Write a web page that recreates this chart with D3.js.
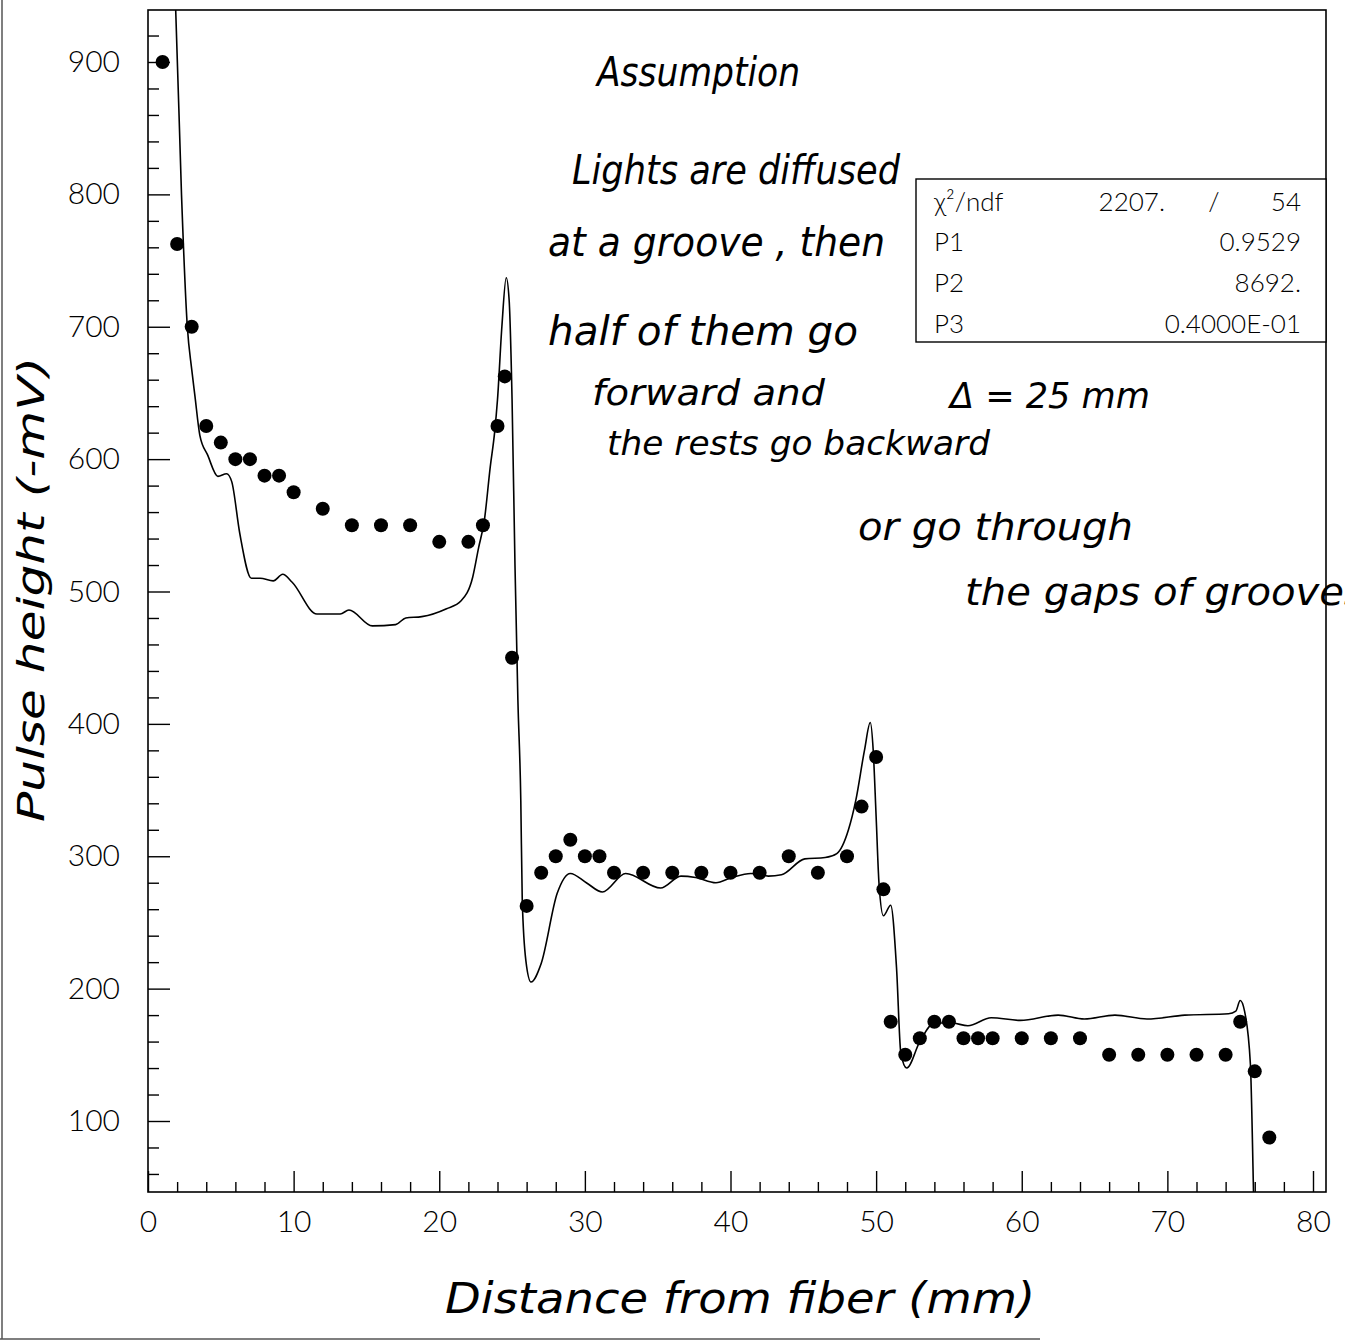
<!DOCTYPE html>
<html>
<head>
<meta charset="utf-8">
<script src="https://cdn.jsdelivr.net/npm/d3@7"></script>
<style>
  body { margin: 0; background: #fff; }
  .tick text { font-family: "Lato", "DejaVu Sans", sans-serif; font-weight: 300; }
  .hand { font-family: "DejaVu Sans", sans-serif; font-style: oblique; fill: #000; }
  .stat { font-family: "Lato", "DejaVu Sans", sans-serif; font-weight: 300; font-size: 26px; }
</style>
</head>
<body>
<div id="chart"></div>
<script>
(function () {

  // measured points (pulse height vs distance)
  var dotX = [1, 2, 3, 4, 5, 6, 7, 8, 9, 10, 12, 14, 16, 18, 20, 22, 23, 24, 24.5, 25,
    26, 27, 28, 29, 30, 31, 32, 34, 36, 38, 40, 42, 44, 46, 48, 49, 50, 50.5, 51,
    52, 53, 54, 55, 56, 57, 58, 60, 62, 64, 66, 68, 70, 72, 74, 75, 76, 77];
  var dotY = [900, 762.5, 700, 625, 612.5, 600, 600, 587.5, 587.5, 575, 562.5, 550, 550, 550, 537.5, 537.5, 550, 625, 662.5, 450,
    262.5, 287.5, 300, 312.5, 300, 300, 287.5, 287.5, 287.5, 287.5, 287.5, 287.5, 300, 287.5, 300, 337.5, 375, 275, 175,
    150, 162.5, 175, 175, 162.5, 162.5, 162.5, 162.5, 162.5, 162.5, 150, 150, 150, 150, 150, 175, 137.5, 87.5];

  // fitted curve
  var fitX = [1.6, 1.9, 2.3, 2.7, 3.0, 3.22, 3.56, 4.1, 4.8, 5.4, 5.75, 6.3, 7.1, 7.7, 8.6, 9.25, 9.9,
    11.6, 13.2, 13.8, 15.4, 17.0, 17.7, 18.8, 20.5, 21.5, 22.3, 22.7, 23.1, 23.5, 23.8, 24.0, 24.3, 24.6,
    24.8, 25.0, 25.2, 25.4, 25.6, 25.7, 25.95, 26.3, 27.0, 28.1, 29.0, 30.1, 31.2, 32.8, 35.2, 36.6, 37.6,
    39.0, 40.1, 41.4, 42.6, 43.5, 45.1, 46.5, 47.3, 48.1, 48.6, 49.2, 49.6, 49.8, 50.0, 50.2, 50.5, 51.0,
    51.4, 51.7, 52.1, 53.0, 54.0, 55.2, 56.3, 57.9, 59.9, 62.5, 64.3, 66.4, 68.6, 71.2, 74.2, 74.7, 75.0,
    75.3, 75.7, 75.9, 76.0];
  var fitY = [1000, 940, 800, 700, 668, 648, 618, 603, 587, 589, 583, 544, 510, 510, 508, 513, 507,
    483, 483, 486, 474, 475, 480, 481, 487, 493, 511, 533, 554, 594, 620, 645, 700, 737,
    720, 645, 520, 418, 342, 267, 221, 205, 219, 272, 287, 280, 273, 287, 276, 285, 284,
    280, 284, 287, 285, 286, 298, 299, 302, 320, 342, 380, 401, 380, 330, 279, 255, 263,
    216, 151, 140, 160, 174, 174, 172, 178, 176, 180, 177, 180, 177, 180, 181, 183, 191,
    183, 143, 54, 0];

  var xMajor = [0, 10, 20, 30, 40, 50, 60, 70, 80];
  var yMajor = [100, 200, 300, 400, 500, 600, 700, 800, 900];

  var statLabels = ["χ²/ndf", "P1", "P2", "P3"];
  var statValues = ["54", "0.9529", "8692.", "0.4000E-01"];

  var notes = [
    { t: "Assumption", x: 597, y: 86, w: 203, s: 40 },
    { t: "Lights are diffused", x: 572, y: 184, w: 328, s: 40 },
    { t: "at a groove , then", x: 548, y: 256, w: 337, s: 40 },
    { t: "half of them go", x: 548, y: 345, w: 310, s: 40 },
    { t: "forward and", x: 592, y: 405, w: 233, s: 36 },
    { t: "Δ = 25 mm", x: 950, y: 408, w: 200, s: 36 },
    { t: "the rests go backward", x: 607, y: 455, w: 383, s: 34 },
    { t: "or go through", x: 858, y: 540, w: 275, s: 38 },
    { t: "the gaps of grooves", x: 965, y: 605, w: 400, s: 38 }
  ];

  var W = 1345, H = 1342,
    left = 148, right = 1326, top = 10, bottom = 1192;

  var svg = d3.select("#chart").append("svg")
    .attr("width", W)
    .attr("height", H);

  // x(0)=148, x(80)=1313, frame runs a bit past 80
  var x = d3.scaleLinear().domain([0, 80]).range([148, 1313]);
  var y = d3.scaleLinear().domain([100, 900]).range([1121, 62]);

  // scan border
  svg.append("line").attr("x1", 2).attr("x2", 2).attr("y1", 0).attr("y2", 1339)
    .attr("stroke", "#555").attr("stroke-width", 1.5);
  svg.append("line").attr("x1", 0).attr("x2", 1040).attr("y1", 1339).attr("y2", 1339)
    .attr("stroke", "#555").attr("stroke-width", 1.5);

  // frame
  svg.append("rect")
    .attr("x", left).attr("y", top)
    .attr("width", right - left).attr("height", bottom - top)
    .attr("fill", "none").attr("stroke", "#000").attr("stroke-width", 1.6);

  // axes, ticks pointing inward
  var xMinor = d3.range(2, 81, 2).filter(function (d) { return d % 10 !== 0; });
  var yMinor = d3.range(60, 940, 20).filter(function (d) { return d % 100 !== 0; });

  var xAxis = svg.append("g").attr("transform", "translate(0," + bottom + ")");
  xAxis.call(d3.axisBottom(x).tickValues(xMajor).tickSize(-21).tickPadding(40)
    .tickFormat(d3.format("d")));
  xAxis.append("g").call(d3.axisBottom(x).tickValues(xMinor).tickSize(-10).tickFormat(""));
  xAxis.selectAll(".domain").remove();
  xAxis.selectAll(".tick line").attr("stroke-width", 1.4);
  xAxis.selectAll(".tick text").attr("font-size", 30).attr("dy", 0).attr("fill", "#000");

  var yAxis = svg.append("g").attr("transform", "translate(" + left + ",0)");
  yAxis.call(d3.axisLeft(y).tickValues(yMajor).tickSize(-22).tickPadding(28)
    .tickFormat(d3.format("d")));
  yAxis.append("g").call(d3.axisLeft(y).tickValues(yMinor).tickSize(-11).tickFormat(""));
  yAxis.selectAll(".domain").remove();
  yAxis.selectAll(".tick line").attr("stroke-width", 1.4);
  yAxis.selectAll(".tick text").attr("font-size", 30).attr("fill", "#000");

  // clip for the fit curve
  svg.append("clipPath").attr("id", "plotClip")
    .append("rect").attr("x", left).attr("y", top)
    .attr("width", right - left).attr("height", bottom - top);

  var fit = fitX.map(function (d, i) { return [d, fitY[i]]; });
  var line = d3.line()
    .x(function (d) { return x(d[0]); })
    .y(function (d) { return y(d[1]); })
    .curve(d3.curveMonotoneX);

  svg.append("path")
    .datum(fit)
    .attr("clip-path", "url(#plotClip)")
    .attr("d", line)
    .attr("fill", "none")
    .attr("stroke", "#000")
    .attr("stroke-width", 1.6);

  svg.append("g").selectAll("circle")
    .data(dotX).enter()
    .append("circle")
      .attr("cx", function (d) { return x(d); })
      .attr("cy", function (d, i) { return y(dotY[i]); })
      .attr("r", 7)
      .attr("fill", "#000");

  // stats box
  var box = svg.append("g");
  box.append("rect")
    .attr("x", 916).attr("y", 179).attr("width", right - 916).attr("height", 163)
    .attr("fill", "#fff").attr("stroke", "#000").attr("stroke-width", 1.4);
  var rowY = [211, 251, 292, 333];
  box.append("text").attr("class", "stat").attr("x", 1165).attr("y", rowY[0])
    .attr("text-anchor", "end").text("2207.");
  box.append("text").attr("class", "stat").attr("x", 1214).attr("y", rowY[0])
    .attr("text-anchor", "middle").text("/");
  statLabels.forEach(function (l, i) {
    box.append("text").attr("class", "stat").attr("x", 934).attr("y", rowY[i]).text(l);
    box.append("text").attr("class", "stat")
      .attr("x", 1301).attr("y", rowY[i]).attr("text-anchor", "end")
      .text(statValues[i]);
  });

  // handwritten notes
  svg.append("g").selectAll("text")
    .data(notes).enter()
    .append("text")
      .attr("class", "hand")
      .attr("x", function (d) { return d.x; })
      .attr("y", function (d) { return d.y; })
      .attr("font-size", function (d) { return d.s; })
      .attr("textLength", function (d) { return d.w; })
      .attr("lengthAdjust", "spacingAndGlyphs")
      .text(function (d) { return d.t; });

  // axis titles
  svg.append("text")
    .attr("class", "hand")
    .attr("x", 445).attr("y", 1313)
    .attr("font-size", 42)
    .attr("textLength", 590).attr("lengthAdjust", "spacingAndGlyphs")
    .text("Distance from fiber (mm)");

  svg.append("text")
    .attr("class", "hand")
    .attr("transform", "translate(44,822) rotate(-90)")
    .attr("font-size", 38)
    .attr("textLength", 465).attr("lengthAdjust", "spacingAndGlyphs")
    .text("Pulse height (-mV)");

})();
</script>
</body>
</html>
